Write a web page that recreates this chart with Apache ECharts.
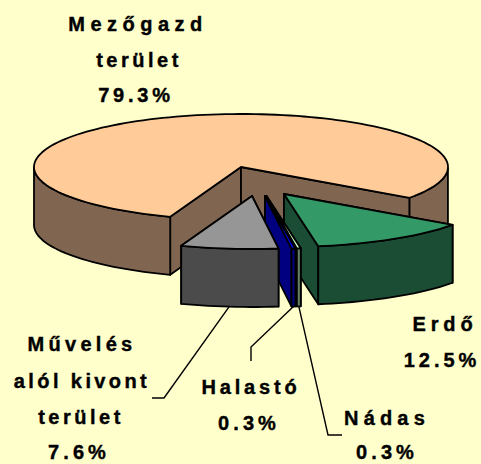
<!DOCTYPE html>
<html>
<head>
<meta charset="utf-8">
<style>
  html, body { margin: 0; padding: 0; background: #ffffcc; }
  #chart { width: 481px; height: 464px; }
</style>
<script src="https://cdn.jsdelivr.net/npm/echarts@6/dist/echarts.min.js"></script>
</head>
<body>
<div id="chart"></div>
<script>
// slices, clockwise, in paint order
var names = ["Mezőgazd terület", "Erdő", "Nádas", "Halastó", "Művelés alól kivont terület"];
var values = [79.3, 12.5, 0.3, 0.3, 7.6];
var valueLabels = ["79.3%", "12.5%", "0.3%", "0.3%", "7.6%"];

var topColors = ["#ffcc99", "#339966", "#ccffcc", "#0000ff", "#969696"];
var wallColors = ["#806650", "#1a4d33", "#668066", "#000080", "#4b4b4b"];

// exploded apex of each slice on screen
var apexX = [241, 284, 266.5, 265, 252];
var apexY = [167, 194, 196, 196, 196];

var radiusX = 207;
var radiusY = 53;
var depth = 58;
var startAngle = -20; // degrees from south, east is positive

// label text lines: [text, centre x, centre y, letter spacing]
var labelLines = [
  ["Mezőgazd", 138, 24, 5.5],
  ["terület", 139, 60, 3.5],
  [valueLabels[0], 136, 95, 3.8],
  ["Erdő", 445, 324, 4.9],
  [valueLabels[1], 442, 360, 4],
  ["Művelés", 82, 344, 4.3],
  ["alól kivont", 82, 381, 3.4],
  ["terület", 81, 417, 3.5],
  [valueLabels[4], 79, 452, 4.1],
  ["Halastó", 251, 387, 3.8],
  [valueLabels[3], 249, 423, 4.1],
  ["Nádas", 387, 418, 5.2],
  [valueLabels[2], 387, 452, 4.1]
];

// leader bends after the rim, by slice index
var leaderBends = {
  2: [[328, 435], [342, 435]],
  3: [[251, 347], [251, 361]],
  4: [[164, 398], [152, 398]]
};

var total = values.reduce(function (a, b) { return a + b; }, 0);

function sliceAngles(index) {
  var before = 0;
  for (var i = 0; i < index; i++) before += values[i];
  var a0 = startAngle - (before / total) * 360;
  return [a0, a0 - (values[index] / total) * 360];
}

function rimPoint(index, angle) {
  var r = (angle * Math.PI) / 180;
  return [apexX[index] + radiusX * Math.sin(r), apexY[index] + radiusY * Math.cos(r)];
}

function down(p) {
  return [p[0], p[1] + depth];
}

function polygon(points, fill) {
  return {
    type: "polygon",
    shape: { points: points },
    style: { fill: fill, stroke: "#000", lineWidth: 1.8, lineJoin: "round" }
  };
}

function renderSlice(params, api) {
  var index = api.value(0);
  var angles = sliceAngles(index);
  var apex = [apexX[index], apexY[index]];
  var arc = [];
  var steps = Math.max(2, Math.ceil(Math.abs(angles[1] - angles[0]) / 2));
  for (var s = 0; s <= steps; s++) {
    arc.push(angles[0] + ((angles[1] - angles[0]) * s) / steps);
  }
  var rim = arc.map(function (a) { return rimPoint(index, a); });
  var children = [];

  // radial faces first, the top and rim wall hide whichever faces away
  [rim[0], rim[rim.length - 1]].forEach(function (p) {
    children.push(polygon([apex, p, down(p), down(apex)], wallColors[index]));
  });

  // rim wall only where it faces the viewer
  var run = [];
  function flush() {
    if (run.length > 1) {
      children.push(polygon(run.concat(run.map(down).reverse()), wallColors[index]));
    }
    run = [];
  }
  arc.forEach(function (a, i) {
    if (Math.cos((a * Math.PI) / 180) >= -0.001) {
      run.push(rim[i]);
    } else {
      flush();
    }
  });
  flush();

  children.push(polygon([apex].concat(rim), topColors[index]));
  return { type: "group", children: children };
}

function renderLeader(params, api) {
  var index = api.value(0);
  var angles = sliceAngles(index);
  var start = down(rimPoint(index, (angles[0] + angles[1]) / 2));
  return {
    type: "polyline",
    shape: { points: [start].concat(leaderBends[index]) },
    style: { fill: null, stroke: "#000", lineWidth: 1.4 }
  };
}

var chart = echarts.init(document.getElementById("chart"), null, { renderer: "svg" });

chart.on("finished", function () {
  // zrender has no letter spacing option, the reference labels are widely spaced
  var nodes = chart.getDom().querySelectorAll("text");
  Array.prototype.forEach.call(nodes, function (node, i) {
    if (labelLines[i]) node.style.letterSpacing = labelLines[i][3] + "px";
  });
});

chart.setOption({
  backgroundColor: "#ffffcc",
  animation: false,
  series: [
    {
      type: "custom",
      coordinateSystem: "none",
      silent: true,
      renderItem: renderSlice,
      data: names.map(function (n, i) { return { name: n, value: [i, values[i]] }; })
    },
    {
      type: "custom",
      coordinateSystem: "none",
      silent: true,
      renderItem: renderLeader,
      data: [[2], [3], [4]]
    }
  ],
  graphic: labelLines.map(function (line) {
    return {
      type: "text",
      silent: true,
      style: {
        text: line[0],
        x: line[1],
        y: line[2],
        align: "center",
        verticalAlign: "middle",
        fill: "#000",
        stroke: "#000",
        lineWidth: 0.4,
        font: "bold 20px 'Liberation Sans', Arial, sans-serif"
      }
    };
  })
});
</script>
</body>
</html>
